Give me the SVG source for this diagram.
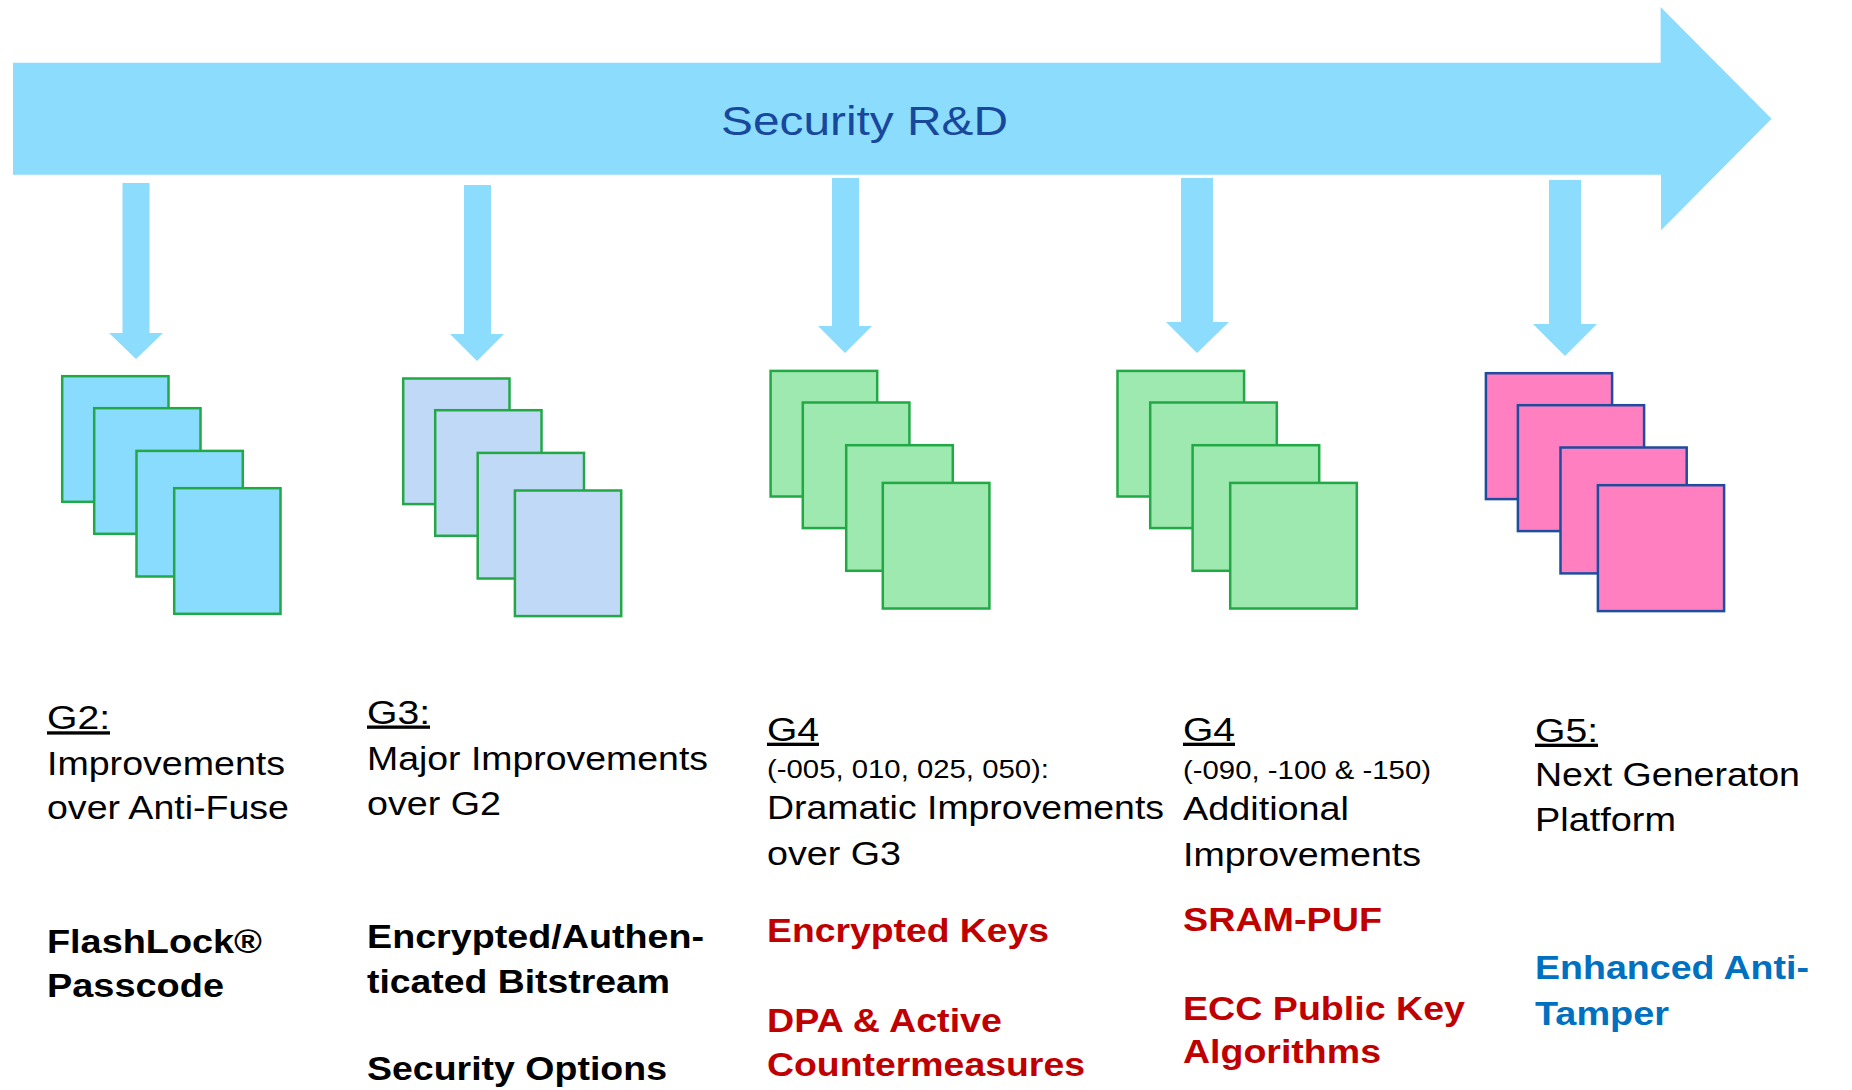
<svg xmlns="http://www.w3.org/2000/svg" width="1852" height="1090" viewBox="0 0 1852 1090">
  <style>
    text { font-family: "Liberation Sans", Arial, sans-serif; }
    .flow { fill: #8CDCFE; }
    .title { font-size: 41px; fill: #17489C; }
    .hd { font-size: 33px; fill: #000; text-decoration: underline; }
    .sub { font-size: 25px; fill: #000; }
    .txt { font-size: 33px; fill: #000; }
    .b { font-size: 33px; font-weight: bold; fill: #000; }
    .red { font-size: 33px; font-weight: bold; fill: #C00000; }
    .blue { font-size: 33px; font-weight: bold; fill: #0070C0; }
    .sheet { stroke-width: 2.5; }
    .cyan { fill: #8ADCFE; stroke: #22A845; }
    .pale { fill: #C0D9F7; stroke: #22A845; }
    .green { fill: #9DE9AF; stroke: #22A845; }
    .pink { fill: #FF7FC1; stroke: #1E4D9F; }
  </style>

  <!-- Banner arrow -->
  <g id="banner">
    <polygon class="flow" points="13,62.7 1660.6,62.7 1660.6,7 1771.6,118.7 1661,230.3 1661,174.7 13,174.7"/>
    <text class="title" x="721" y="134.5" textLength="287" lengthAdjust="spacingAndGlyphs">Security R&amp;D</text>
  </g>

  <!-- Drop arrows from the banner to each generation -->
  <g id="connectors">
    <polygon class="flow" points="122.5,183 149.5,183 149.5,333 163,333 136,359 109,333 122.5,333"/>
    <polygon class="flow" points="464,185 491,185 491,334 504,334 477,361 450,334 464,334"/>
    <polygon class="flow" points="832,178 859,178 859,326 872,326 845,353 818,326 832,326"/>
    <polygon class="flow" points="1181,178 1213,178 1213,322 1229,322 1197,353 1166,322 1181,322"/>
    <polygon class="flow" points="1549,180 1581,180 1581,324 1597,324 1565,356 1533,324 1549,324"/>
  </g>

  <!-- G2 -->
  <g id="node-g2">
    <g class="sheet cyan">
      <rect x="62.2" y="376.2" width="106.3" height="125.6"/>
      <rect x="94.2" y="408.2" width="106.3" height="125.6"/>
      <rect x="136.5" y="450.9" width="106.3" height="125.6"/>
      <rect x="174.2" y="488.2" width="106.3" height="125.6"/>
    </g>
    <text class="hd" x="47" y="729.3" textLength="63" lengthAdjust="spacingAndGlyphs">G2:</text>
    <text class="txt" x="47" y="775" textLength="238" lengthAdjust="spacingAndGlyphs">Improvements</text>
    <text class="txt" x="47" y="819.3" textLength="242" lengthAdjust="spacingAndGlyphs">over Anti-Fuse</text>
    <text class="b" x="47" y="953.3" textLength="215" lengthAdjust="spacingAndGlyphs">FlashLock®</text>
    <text class="b" x="47" y="997.3" textLength="177" lengthAdjust="spacingAndGlyphs">Passcode</text>
  </g>

  <!-- G3 -->
  <g id="node-g3">
    <g class="sheet pale">
      <rect x="403.2" y="378.5" width="106.3" height="125.6"/>
      <rect x="435.2" y="410.2" width="106.3" height="125.6"/>
      <rect x="477.7" y="452.9" width="106.3" height="125.6"/>
      <rect x="514.9" y="490.5" width="106.3" height="125.6"/>
    </g>
    <text class="hd" x="367" y="723.5" textLength="63" lengthAdjust="spacingAndGlyphs">G3:</text>
    <text class="txt" x="367" y="770" textLength="341" lengthAdjust="spacingAndGlyphs">Major Improvements</text>
    <text class="txt" x="367" y="815" textLength="134" lengthAdjust="spacingAndGlyphs">over G2</text>
    <text class="b" x="367" y="948.3" textLength="337" lengthAdjust="spacingAndGlyphs">Encrypted/Authen-</text>
    <text class="b" x="367" y="993.3" textLength="303" lengthAdjust="spacingAndGlyphs">ticated Bitstream</text>
    <text class="b" x="367" y="1080" textLength="300" lengthAdjust="spacingAndGlyphs">Security Options</text>
  </g>

  <!-- G4 (-005 to 050) -->
  <g id="node-g4a">
    <g class="sheet green">
      <rect x="770.6" y="370.9" width="106.6" height="125.6"/>
      <rect x="802.8" y="402.5" width="106.6" height="125.6"/>
      <rect x="846.2" y="445.2" width="106.6" height="125.6"/>
      <rect x="882.8" y="482.9" width="106.6" height="125.6"/>
    </g>
    <text class="hd" x="767" y="740.7" textLength="52" lengthAdjust="spacingAndGlyphs">G4</text>
    <text class="sub" x="767" y="777.5" textLength="282" lengthAdjust="spacingAndGlyphs">(-005, 010, 025, 050):</text>
    <text class="txt" x="767" y="819.3" textLength="397" lengthAdjust="spacingAndGlyphs">Dramatic Improvements</text>
    <text class="txt" x="767" y="865" textLength="134" lengthAdjust="spacingAndGlyphs">over G3</text>
    <text class="red" x="767" y="941.7" textLength="282" lengthAdjust="spacingAndGlyphs">Encrypted Keys</text>
    <text class="red" x="767" y="1031.7" textLength="235" lengthAdjust="spacingAndGlyphs">DPA &amp; Active</text>
    <text class="red" x="767" y="1076" textLength="318" lengthAdjust="spacingAndGlyphs">Countermeasures</text>
  </g>

  <!-- G4 (-090 to -150) -->
  <g id="node-g4b">
    <g class="sheet green">
      <rect x="1117.5" y="370.9" width="126.6" height="125.6"/>
      <rect x="1150.2" y="402.5" width="126.6" height="125.6"/>
      <rect x="1192.6" y="445.2" width="126.6" height="125.6"/>
      <rect x="1230.2" y="482.9" width="126.6" height="125.6"/>
    </g>
    <text class="hd" x="1183" y="740.7" textLength="52" lengthAdjust="spacingAndGlyphs">G4</text>
    <text class="sub" x="1183" y="779" textLength="248" lengthAdjust="spacingAndGlyphs">(-090, -100 &amp; -150)</text>
    <text class="txt" x="1183" y="820" textLength="166" lengthAdjust="spacingAndGlyphs">Additional</text>
    <text class="txt" x="1183" y="865.7" textLength="238" lengthAdjust="spacingAndGlyphs">Improvements</text>
    <text class="red" x="1183" y="931" textLength="199" lengthAdjust="spacingAndGlyphs">SRAM-PUF</text>
    <text class="red" x="1183" y="1020" textLength="282" lengthAdjust="spacingAndGlyphs">ECC Public Key</text>
    <text class="red" x="1183" y="1063.3" textLength="198" lengthAdjust="spacingAndGlyphs">Algorithms</text>
  </g>

  <!-- G5 -->
  <g id="node-g5">
    <g class="sheet pink">
      <rect x="1485.9" y="373.2" width="126.2" height="125.9"/>
      <rect x="1517.9" y="405.2" width="126.2" height="125.9"/>
      <rect x="1560.5" y="447.5" width="126.2" height="125.9"/>
      <rect x="1597.9" y="485.2" width="126.2" height="125.9"/>
    </g>
    <text class="hd" x="1535" y="741.7" textLength="63" lengthAdjust="spacingAndGlyphs">G5:</text>
    <text class="txt" x="1535" y="786" textLength="265" lengthAdjust="spacingAndGlyphs">Next Generaton</text>
    <text class="txt" x="1535" y="830.7" textLength="141" lengthAdjust="spacingAndGlyphs">Platform</text>
    <text class="blue" x="1535" y="979.3" textLength="274" lengthAdjust="spacingAndGlyphs">Enhanced Anti-</text>
    <text class="blue" x="1535" y="1025" textLength="134" lengthAdjust="spacingAndGlyphs">Tamper</text>
  </g>
</svg>
